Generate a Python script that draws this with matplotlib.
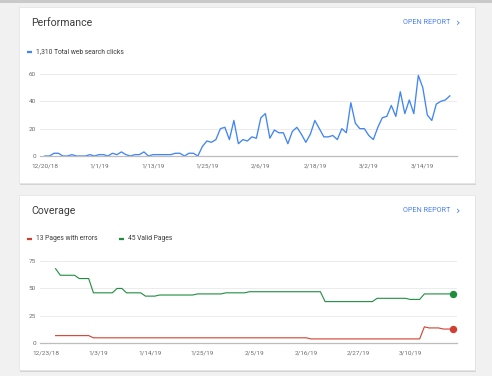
import numpy as np
import pandas as pd
import matplotlib
matplotlib.use("Agg")
import matplotlib.pyplot as plt
from matplotlib.patches import Rectangle

plt.rcParams['font.family'] = ['Roboto', 'DejaVu Sans']

# daily web search clicks, starting 12/20/18
clicks = [0, 0, 2, 2, 0, 0, 1, 0, 0, 0,
          1, 0, 1, 1, 0, 2, 1, 3, 1, 0,
          1, 1, 3, 0, 1, 1, 1, 1, 1, 2,
          2, 0, 2, 2, 0, 7, 11, 10, 12, 20,
          21, 12, 26, 9, 12, 11, 14, 13, 28, 31,
          13, 19, 17, 17, 9, 18, 21, 16, 10, 16,
          26, 20, 14, 14, 15, 12, 20, 17, 39, 24,
          20, 20, 15, 12, 21, 28, 29, 37, 29, 47,
          31, 41, 31, 59, 50, 30, 26, 38, 40, 41, 44]
clicks_start = "2018-12-20"
clicks_ticks = ["12/20/18", "1/1/19", "1/13/19", "1/25/19", "2/6/19", "2/18/19", "3/2/19", "3/14/19"]
clicks_yticks = [0, 20, 40, 60]

# daily coverage, starting 12/25/18
valid = [68, 62, 62, 62, 62, 59, 59, 59, 46, 46,
         46, 46, 46, 50, 50, 46, 46, 46, 46, 43,
         43, 43, 44, 44, 44, 44, 44, 44, 44, 44,
         45, 45, 45, 45, 45, 45, 46, 46, 46, 46,
         46, 47, 47, 47, 47, 47, 47, 47, 47, 47,
         47, 47, 47, 47, 47, 47, 47, 38, 38, 38,
         38, 38, 38, 38, 38, 38, 38, 38, 41, 41,
         41, 41, 41, 41, 41, 40, 40, 40, 45, 45,
         45, 45, 45, 45, 45]
errors = [7, 7, 7, 7, 7, 7, 7, 7, 5, 5,
          5, 5, 5, 5, 5, 5, 5, 5, 5, 5,
          5, 5, 5, 5, 5, 5, 5, 5, 5, 5,
          5, 5, 5, 5, 5, 5, 5, 5, 5, 5,
          5, 5, 5, 5, 5, 5, 5, 5, 5, 5,
          5, 5, 5, 5, 4, 4, 4, 4, 4, 4,
          4, 4, 4, 4, 4, 4, 4, 4, 4, 4,
          4, 4, 4, 4, 4, 4, 4, 4, 15, 14,
          14, 14, 13, 13, 13]
cov_start = "2018-12-25"
cov_ticks = ["12/23/18", "1/3/19", "1/14/19", "1/25/19", "2/5/19", "2/16/19", "2/27/19", "3/10/19"]
cov_yticks = [0, 25, 50, 75]

W, H = 492, 376
BLUE = "#4285f4"
RED = "#d23f31"
GREEN = "#1e8e3e"
LINK = "#4a80f5"
TXT = "#3c3c3c"
TICK = "#6b6b6b"

fig = plt.figure(figsize=(W / 100, H / 100), dpi=100, facecolor="#f1f1f1")


def fx(x):
    return x / W


def fy(y):
    return 1 - y / H


def card(x0, y0, x1, y1):
    # soft shadow then white card, in pixel coords
    fig.patches.append(Rectangle((fx(x0 + 0.5), fy(y1 + 1.5)), (x1 - x0) / W, (y1 - y0) / H,
                                 transform=fig.transFigure, facecolor="#d4d4d4",
                                 edgecolor="none", zorder=0))
    fig.patches.append(Rectangle((fx(x0), fy(y1)), (x1 - x0) / W, (y1 - y0) / H,
                                 transform=fig.transFigure, facecolor="white",
                                 edgecolor="#e2e2e2", linewidth=0.5, zorder=1))


# top grey strip
fig.patches.append(Rectangle((0, fy(2.5)), 1, 2.5 / H, transform=fig.transFigure,
                             facecolor="#c9c9c9", edgecolor="none", zorder=0))
card(19, 7, 475, 183)
card(19, 195, 475, 370)


def header(y, title):
    fig.text(fx(31), fy(y), title, fontsize=7.6, color=TXT, va="center", ha="left", zorder=3)
    fig.text(fx(450), fy(y), "OPEN REPORT", fontsize=5.2, color=LINK, va="center", ha="right",
             zorder=3)
    fig.text(fx(456), fy(y), "›", fontsize=8, color=LINK, va="center", ha="left",
             family="DejaVu Sans", zorder=3)


def legend_item(x, y, color, label):
    fig.lines.append(plt.Line2D([fx(x), fx(x + 4.5)], [fy(y), fy(y)], transform=fig.transFigure,
                                color=color, linewidth=1.6, solid_capstyle="butt", zorder=3))
    fig.text(fx(x + 9), fy(y), label, fontsize=4.9, color=TXT, va="center", ha="left", zorder=3)


def style_axes(ax, yticks, tick_labels):
    ax.set_zorder(2)
    ax.set_facecolor("none")
    for s in ["top", "left", "right"]:
        ax.spines[s].set_visible(False)
    ax.spines["bottom"].set_color("#bdbdbd")
    ax.spines["bottom"].set_linewidth(0.9)
    ax.set_yticks(yticks)
    ax.yaxis.grid(True, color="#ececec", linewidth=0.7)
    ax.set_axisbelow(True)
    tick_pos = pd.to_datetime(tick_labels, format="%m/%d/%y")
    ax.set_xticks(tick_pos)
    ax.set_xticklabels(tick_labels)
    ax.tick_params(axis="both", length=0, labelsize=4.6, labelcolor=TICK)
    ax.tick_params(axis="x", pad=5.5)
    ax.tick_params(axis="y", pad=3)
    return tick_pos


# Performance
header(23, "Performance")
legend_item(27, 52, BLUE, "1,310 Total web search clicks")
ax1 = fig.add_axes([fx(40), fy(156), 417 / W, 82 / H])
d1 = pd.date_range(clicks_start, periods=len(clicks))
ax1.plot(d1, clicks, color=BLUE, linewidth=0.95, clip_on=False)
tp = style_axes(ax1, clicks_yticks, clicks_ticks)
ax1.set_ylim(0, 60)
ax1.set_xlim(tp[0] - pd.Timedelta(days=1.1), tp[0] + pd.Timedelta(days=91.6))

# Coverage
header(211, "Coverage")
legend_item(27, 239, RED, "13 Pages with errors")
legend_item(119, 239, GREEN, "45 Valid Pages")
ax2 = fig.add_axes([fx(40), fy(343.3), 417 / W, 82.3 / H])
d2 = pd.date_range(cov_start, periods=len(valid))
ax2.plot(d2, valid, color=GREEN, linewidth=0.8, clip_on=False)
ax2.plot(d2, errors, color=RED, linewidth=0.8, clip_on=False)
ax2.plot(d2[-1:], valid[-1:], "o", color=GREEN, markersize=4.3, clip_on=False)
ax2.plot(d2[-1:], errors[-1:], "o", color=RED, markersize=4.3, clip_on=False)
tp = style_axes(ax2, cov_yticks, cov_ticks)
ax2.set_ylim(0, 75)
ax2.set_xlim(tp[0] - pd.Timedelta(days=1.3), tp[0] + pd.Timedelta(days=86.9))

fig.savefig("out.png", dpi=100, facecolor=fig.get_facecolor())
